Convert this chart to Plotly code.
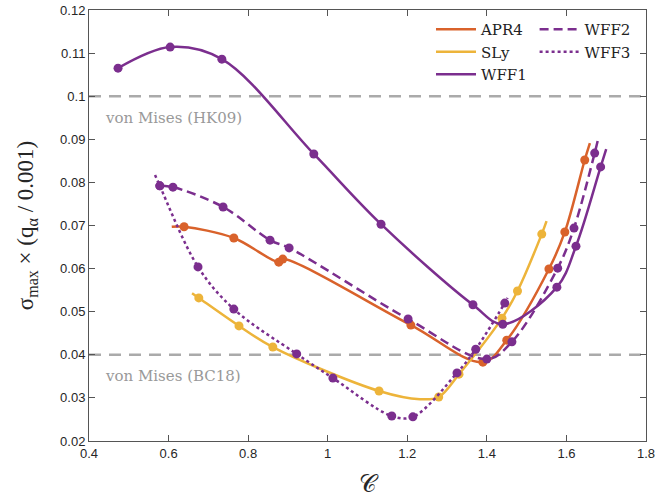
import plotly.graph_objects as go

# ---------------- data ----------------
apr4_x = [0.639, 0.764, 0.877, 0.887, 1.209, 1.390, 1.450, 1.556, 1.596, 1.646]
apr4_y = [0.0697, 0.0671, 0.0615, 0.0622, 0.0469, 0.0383, 0.0434, 0.0599, 0.0685, 0.0852]
apr4_cx = [0.608] + apr4_x + [1.659]
apr4_cy = [0.0697] + apr4_y + [0.0891]

sly_x = [0.676, 0.777, 0.862, 1.129, 1.279, 1.330, 1.438, 1.477, 1.538]
sly_y = [0.0532, 0.0467, 0.0418, 0.0316, 0.0302, 0.0355, 0.0485, 0.0548, 0.0680]
sly_cx = [0.659, 0.676, 0.777, 0.862, 1.129, 1.232, 1.279, 1.330, 1.438, 1.477, 1.538, 1.550]
sly_cy = [0.0543, 0.0532, 0.0467, 0.0418, 0.0316, 0.0297, 0.0302, 0.0355, 0.0485, 0.0548, 0.0680, 0.0710]

wff1_x = [0.473, 0.604, 0.734, 0.965, 1.134, 1.365, 1.440, 1.576, 1.624, 1.686]
wff1_y = [0.1065, 0.1114, 0.1086, 0.0866, 0.0703, 0.0516, 0.0471, 0.0557, 0.0652, 0.0836]
wff1_cx = wff1_x + [1.700]
wff1_cy = wff1_y + [0.0877]

wff2_x = [0.578, 0.611, 0.737, 0.855, 0.903, 1.202, 1.400, 1.463, 1.578, 1.619, 1.671]
wff2_y = [0.0792, 0.0789, 0.0743, 0.0666, 0.0648, 0.0483, 0.0390, 0.0430, 0.0601, 0.0694, 0.0868]
wff2_cx = wff2_x + [1.679]
wff2_cy = wff2_y + [0.0898]

wff3_x = [0.578, 0.674, 0.764, 0.922, 1.013, 1.161, 1.214, 1.325, 1.372, 1.445]
wff3_y = [0.0792, 0.0604, 0.0506, 0.0402, 0.0346, 0.0258, 0.0256, 0.0358, 0.0413, 0.0520]
wff3_cx = [0.566] + wff3_x + [1.452]
wff3_cy = [0.0817] + wff3_y + [0.0532]

ref_levels = [0.1, 0.04]
ref_labels = ["von Mises (HK09)", "von Mises (BC18)"]

x_ticks = [0.4, 0.6, 0.8, 1.0, 1.2, 1.4, 1.6, 1.8]
x_ticktext = ["0.4", "0.6", "0.8", "1", "1.2", "1.4", "1.6", "1.8"]
y_ticks = [0.02, 0.03, 0.04, 0.05, 0.06, 0.07, 0.08, 0.09, 0.1, 0.11, 0.12]
y_ticktext = ["0.02", "0.03", "0.04", "0.05", "0.06", "0.07", "0.08", "0.09", "0.1", "0.11", "0.12"]

# ---------------- styles ----------------
ORANGE = "#D9622B"
YELLOW = "#EDB43A"
PURPLE = "#7B2E8E"
GRAY = "#AAAAAA"
SERIF = "Liberation Serif, DejaVu Serif, serif"
WSERIF = "DejaVu Serif, Liberation Serif, serif"
SANS = "Liberation Sans, Arial, Helvetica, sans-serif"

fig = go.Figure()

series = [
    ("APR4", apr4_cx, apr4_cy, apr4_x, apr4_y, ORANGE, "solid", "legend"),
    ("SLy", sly_cx, sly_cy, sly_x, sly_y, YELLOW, "solid", "legend"),
    ("WFF1", wff1_cx, wff1_cy, wff1_x, wff1_y, PURPLE, "solid", "legend"),
    ("WFF2", wff2_cx, wff2_cy, wff2_x, wff2_y, PURPLE, "9px,5px", "legend2"),
    ("WFF3", wff3_cx, wff3_cy, wff3_x, wff3_y, PURPLE, "dot", "legend2"),
]

for name, cx, cy, mx, my, col, dash, leg in series:
    fig.add_trace(go.Scatter(
        x=cx, y=cy, mode="lines", name=name, legend=leg,
        line=dict(color=col, width=2.5, dash=dash, shape="spline", smoothing=1.0),
    ))
    fig.add_trace(go.Scatter(
        x=mx, y=my, mode="markers", showlegend=False,
        marker=dict(color=col, size=9),
    ))

for lvl, lab in zip(ref_levels, ref_labels):
    fig.add_shape(type="line", xref="paper", x0=0, x1=1, yref="y", y0=lvl, y1=lvl,
                  line=dict(color=GRAY, width=2.5, dash="12px,8px"), layer="below")
    fig.add_annotation(x=0.436, y=lvl - 0.0050, xref="x", yref="y", text=lab,
                       showarrow=False, xanchor="left", yanchor="middle",
                       font=dict(family=WSERIF, size=15, color="#999999"))

axis_common = dict(
    showgrid=False, zeroline=False, showline=True, linecolor="#555555", linewidth=1,
    mirror="ticks", ticks="inside", ticklen=6, tickcolor="#555555", automargin=False,
    ticklabeloverflow="allow",
    tickfont=dict(family=SANS, size=13, color="#262626"),
)

fig.update_layout(
    template="none",
    width=655, height=497,
    margin=dict(l=89, r=9, t=10, b=56),
    plot_bgcolor="white", paper_bgcolor="white",
    showlegend=True,
    xaxis=dict(range=[0.4, 1.8], tickvals=x_ticks, ticktext=x_ticktext,
               title=dict(text="𝒞", font=dict(family=SERIF, size=24, color="#262626")),
               **axis_common),
    yaxis=dict(range=[0.02, 0.12], tickvals=y_ticks, ticktext=y_ticktext,
               title=dict(text="σ<sub>max</sub> × (q<sub>α</sub> / 0.001)",
                          font=dict(family=SERIF, size=23, color="#262626")),
               **axis_common),
    legend=dict(x=0.614, y=0.993, xanchor="left", yanchor="top", bgcolor="rgba(0,0,0,0)",
                font=dict(family=WSERIF, size=15, color="#222"), tracegroupgap=0,
                itemwidth=40),
    legend2=dict(x=0.800, y=0.993, xanchor="left", yanchor="top", bgcolor="rgba(0,0,0,0)",
                 font=dict(family=WSERIF, size=15, color="#222"), tracegroupgap=0,
                 itemwidth=40),
)

fig.write_html("out.html")
